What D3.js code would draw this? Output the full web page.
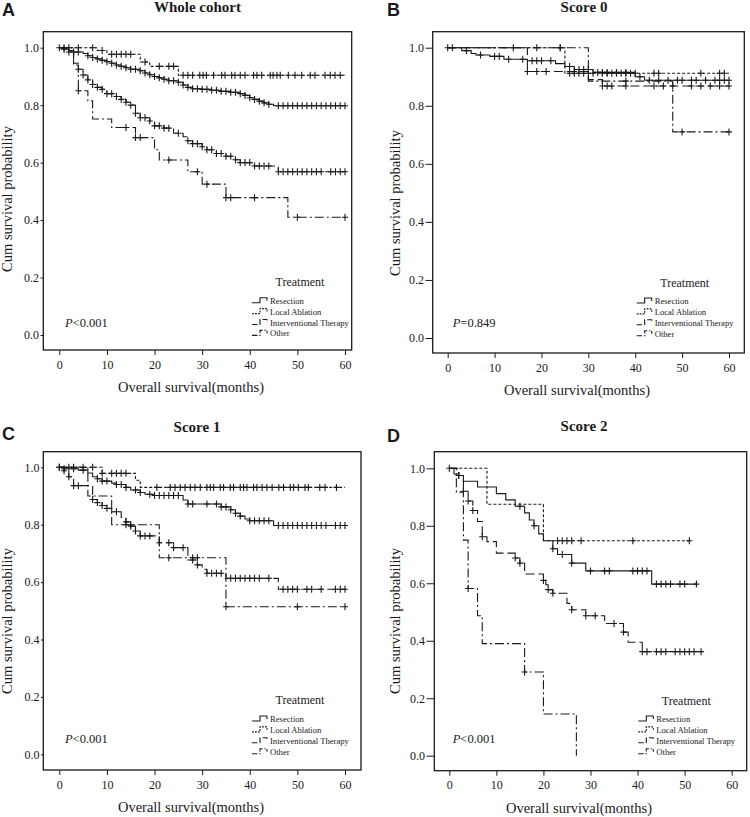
<!DOCTYPE html>
<html>
<head>
<meta charset="utf-8">
<script src="https://cdn.jsdelivr.net/npm/d3@7/dist/d3.min.js"></script>
<style>
  body { margin: 0; background: #fff; }
  svg text { font-family: "Liberation Serif", "Times New Roman", serif; fill: #1a1a1a; }
</style>
</head>
<body>
<div id="chart"></div>
<script>
// ---- data ----
var months = [0, 10, 20, 30, 40, 50, 60];
var survivalTicks = [0, 0.2, 0.4, 0.6, 0.8, 1.0];
var treatments = ["Resection", "Local Ablation", "Interventional Therapy", "Other"];
var panelLetters = ["A", "B", "C", "D"];
var panelTitles = ["Whole cohort", "Score 0", "Score 1", "Score 2"];
var pValues = ["<0.001", "=0.849", "<0.001", "<0.001"];

// steps are [month, survival after the event]; censored are months
var wholeResection = [[1,.995],[2,.99],[3,.985],[5,.98],[6,.972],[7,.966],[8,.961],[9,.956],[10,.951],[11,.946],[12,.94],[13,.935],[14,.93],[15,.925],[17,.92],[18,.912],[19,.906],[20,.9],[21,.895],[22,.89],[23,.885],[25,.88],[26,.87],[27,.862],[28,.857],[30,.855],[32,.852],[34,.848],[36,.845],[38,.84],[39,.834],[40,.826],[41,.82],[42,.814],[43,.808],[44,.803],[45,.798]];
var wholeResectionCens = [1,3,4,6,7,8,9,10,11,12,13,14,15,16,17,18,19,20,21,22,23,24,25,26,27,28,29,30,31,32,33,34,35,36,37,38,39,40,41,42,43,44,46,47,48,49,50,51,52,53,54,55,56,57,58,59,60];
var wholeAblation = [[8,.99],[10,.977],[17,.95],[19,.935],[25,.904]];
var wholeAblationCens = [0,1,2,4,7,9,11,12,13,14,15,18,21,23,24,26,27,28,29.5,30.2,30.9,32.4,34.1,34.8,36.2,36.9,38,39,40.8,41.5,42.5,44.3,44.9,45.7,46.4,48.1,49.5,50.9,52.7,53.7,55.8,56.9,57.9,59];
var wholeInterv = [[2,.985],[3,.946],[4,.925],[5,.905],[6,.888],[7,.872],[8,.862],[9,.855],[10,.84],[12,.83],[13,.82],[14,.81],[15,.8],[16,.772],[17,.756],[19,.745],[20,.728],[22,.72],[24,.702],[26,.69],[27,.676],[28,.666],[30,.655],[31,.645],[33,.632],[35,.622],[37,.61],[38,.6],[41,.588],[46,.568]];
var wholeIntervCens = [2,4,5,6,7,8,9,10,11,12,13,14,15,16,17,18,19,20,21,22,23,25,27,28,29,30,31,32,33,34,35,36,37,38,39,40,41,42,43,44,46,47,48,49,50,51,52,53,54,55,57,58,59,60];
var wholeOther = [[3,.94],[4,.85],[6,.815],[7,.752],[11,.722],[16,.687],[20,.645],[21,.609],[27,.568],[30,.525],[35,.478],[48,.41]];
var wholeOtherCens = [4,14,16,17,23,29,31,35,36,41,50,60];

var score0Resection = [[3,.99],[5,.98],[6,.975],[9,.97],[12,.96],[17,.955],[23,.945],[25,.935],[27,.925],[31,.915],[40,.9],[42,.888]];
var score0ResectionCens = [4,7,10,11,13,16,18,19,20,22,26,28,29,30,32,33,34,36,38,41,43,45,47,49,50,52,53,55,57,58,59,60];
var score0Ablation = [[25,.912]];
var score0AblationCens = [1,24,26,27,28,29,30,31,33,34,35,36,37,38,39,40,44,45,54,58,59];
var score0Interv = [[17,.918],[30,.89],[33,.868]];
var score0IntervCens = [0,14,17,19,21,27,33,34,35,38,44,46,48,52,54,56,58,60];
var score0Other = [[30,.885],[48,.71]];
var score0OtherCens = [19,24,38,50,60];

var score1Resection = [[1,.995],[4,.99],[6,.98],[7,.967],[8,.96],[9,.952],[11,.945],[12,.94],[14,.93],[15,.921],[17,.912],[18,.906],[20,.902],[26,.886],[27,.872],[34,.862],[36,.852],[37,.84],[38,.83],[39,.82],[40,.814],[45,.797]];
var score1ResectionCens = [0,1,3,5,8,9,10,12,13,14,16,17,19,20,21,22,23,24,25,27,28,31,33,34,35,36,37,38,40,41,42,43,44,46,47,48,49,50,51,52,53,54,55,56,58,59,60];
var score1Ablation = [[9,.979],[16,.955],[17,.93]];
var score1AblationCens = [0,2,3,5,7,9,11,12,13,14,20.5,23.3,24.3,25.4,26.4,27.5,28.5,29.6,31,31.7,32.4,33.8,34.5,35.9,36.6,38,38.7,39.4,40.8,41.5,42.6,43.6,44.7,46.1,47.1,48.5,49.2,50.2,51.6,52.3,54.7,55.8,58.2];
var score1Interv = [[1,.988],[2,.967],[3,.936],[7,.888],[8,.877],[9,.867],[10,.857],[11,.845],[13,.825],[14,.81],[15,.795],[16,.778],[17,.761],[21,.737],[24,.72],[27,.677],[29,.66],[30,.645],[31,.631],[35,.613],[46,.575]];
var score1IntervCens = [1,2,3,4,7,8,9,10,12,14,15,16,17,18,19,21,23,24,26,28,29,31,32,33,34,36,37,38,39,40,41,42,44,47,48,49,50,52,53,55,58,59,60];
var score1Other = [[6,.9],[11,.8],[21,.685],[35,.514]];
var score1OtherCens = [14,15,23,28,29,35,50,60];

var score2Resection = [[1,.98],[2,.975],[3,.955],[6,.935],[10,.912],[12,.89],[14,.868],[16,.845],[17,.82],[18,.8],[19,.772],[20,.748],[22,.72],[23,.7],[26,.67],[29,.643],[43,.597]];
var score2ResectionCens = [0,2,15,18,22,24,26,30,33,34,39,40,41,42,44,45,46,47,49,50,52.5];
var score2Ablation = [[8,.875],[20,.748]];
var score2AblationCens = [23,24,25,26,28,39,51];
var score2Interv = [[2,.975],[3,.92],[4,.886],[5,.853],[6,.815],[7,.762],[8,.745],[10,.705],[14,.688],[15,.67],[16,.632],[20,.61],[20.5,.595],[21,.578],[22,.565],[25,.53],[26,.508],[29,.487],[33,.46],[37,.43],[38,.395],[41,.362]];
var score2IntervCens = [2,3,4,5,7,14,15,20,21,22,26,29,31,35,37,41,42,44,45,46,48,49,50,51,52,53.5];
var score2Other = [[1.5,.917],[3,.75],[4,.582],[6,.487],[7,.39],[16,.291],[20,.145],[27,0]];
var score2OtherCens = [4,16];
var score2EndTimes = [52.5, 51, 53.5, 27];

// ---- layout ----
var dashes = [null, "3,2", "9,4", "9,3,2,3"];
var boxes = [
  {fx0: 43.3, fy0: 31.7, fx1: 351.7, fy1: 350, xr: [59.3, 345], yr: [335, 47.7], labR: 39, letter: [2, 16], title: [197.5, 12],
   ytitle: [12, 199], xtitle: 191, leg: {tx: 300, ty: 286, row: 300.7, ix: 252}, pv: [65, 327]},
  {fx0: 432.7, fy0: 31.7, fx1: 744.3, fy1: 353, xr: [447.7, 729], yr: [338, 47.7], labR: 424, letter: [387, 16], title: [584, 12],
   ytitle: [400, 203], xtitle: 577, leg: {tx: 684.7, ty: 287, row: 301, ix: 636.7}, pv: [452.7, 327]},
  {fx0: 43.3, fy0: 451.7, fx1: 361, fy1: 770, xr: [59.3, 345], yr: [754.3, 467.3], labR: 39.5, letter: [2, 440], title: [197, 432],
   ytitle: [12, 621], xtitle: 191, leg: {tx: 300, ty: 704, row: 719, ix: 252}, pv: [65, 742.5]},
  {fx0: 434.3, fy0: 451.7, fx1: 746.7, fy1: 770.7, xr: [449.3, 731.7], yr: [755.7, 468.3], labR: 425, letter: [387, 441.5], title: [584, 431],
   ytitle: [400, 621], xtitle: 579, leg: {tx: 686.3, ty: 705, row: 719, ix: 638.3}, pv: [452.7, 742.5]}
];

var panelSeries = [
  [[wholeResection, wholeResectionCens], [wholeAblation, wholeAblationCens], [wholeInterv, wholeIntervCens], [wholeOther, wholeOtherCens]],
  [[score0Resection, score0ResectionCens], [score0Ablation, score0AblationCens], [score0Interv, score0IntervCens], [score0Other, score0OtherCens]],
  [[score1Resection, score1ResectionCens], [score1Ablation, score1AblationCens], [score1Interv, score1IntervCens], [score1Other, score1OtherCens]],
  [[score2Resection, score2ResectionCens], [score2Ablation, score2AblationCens], [score2Interv, score2IntervCens], [score2Other, score2OtherCens]]
];
var endTimes = [[60,60,60,60],[60,60,60,60],[60,60,60,60], score2EndTimes];

var ink = "#1a1a1a";
var svg = d3.select("#chart").append("svg").attr("width", 750).attr("height", 817);

function survivalAt(steps, t) {
  var s = 1;
  steps.forEach(function(d) { if (d[0] <= t) s = d[1]; });
  return s;
}

var line = d3.line().curve(d3.curveStepAfter);

boxes.forEach(function(b, pi) {
  var x = d3.scaleLinear().domain([0, 60]).range(b.xr);
  var y = d3.scaleLinear().domain([0, 1]).range(b.yr);
  var g = svg.append("g");

  g.append("text").attr("x", b.letter[0]).attr("y", b.letter[1])
    .style("font-family", "'Liberation Sans', Arial, sans-serif").style("font-weight", "bold")
    .style("font-size", "18px").text(panelLetters[pi]);
  g.append("text").attr("x", b.title[0]).attr("y", b.title[1]).attr("text-anchor", "middle")
    .style("font-weight", "bold").style("font-size", "15px").text(panelTitles[pi]);

  g.append("rect").attr("x", b.fx0).attr("y", b.fy0)
    .attr("width", b.fx1 - b.fx0).attr("height", b.fy1 - b.fy0)
    .attr("fill", "none").attr("stroke", ink).attr("stroke-width", 1.3);

  var yAxis = g.append("g").attr("transform", "translate(" + b.fx0 + ",0)")
    .call(d3.axisLeft(y).tickValues(survivalTicks).tickFormat(d3.format(".1f"))
      .tickSize(b.fx0 - b.labR - 1.5).tickPadding(1.5));
  var xAxis = g.append("g").attr("transform", "translate(0," + b.fy1 + ")")
    .call(d3.axisBottom(x).tickValues(months).tickSize(5).tickPadding(5));
  [yAxis, xAxis].forEach(function(a) {
    a.select(".domain").remove();
    a.selectAll("line").attr("stroke", ink);
    a.selectAll("text").style("font-family", "'Liberation Serif', serif").style("font-size", "12px").attr("fill", ink);
  });

  g.append("text").attr("x", b.xtitle).attr("y", b.fy1 + 42).attr("text-anchor", "middle")
    .style("font-size", "14.5px").text("Overall survival(months)");
  g.append("text").attr("transform", "translate(" + b.ytitle[0] + "," + b.ytitle[1] + ") rotate(-90)")
    .attr("text-anchor", "middle").style("font-size", "14.5px").text("Cum survival probability");

  panelSeries[pi].forEach(function(sr, si) {
    var steps = sr[0], cens = sr[1], end = endTimes[pi][si];
    var pts = [[0, 1]].concat(steps);
    pts.push([end, pts[pts.length - 1][1]]);
    g.append("path")
      .attr("d", line(pts.map(function(d) { return [x(d[0]), y(d[1])]; })))
      .attr("fill", "none").attr("stroke", ink).attr("stroke-width", 1.1)
      .attr("stroke-dasharray", dashes[si]);
    g.selectAll(null).data(cens).enter().append("path")
      .attr("d", function(t) {
        var cx = x(t), cy = y(survivalAt(steps, t));
        return "M" + cx + "," + (cy - 3.5) + "V" + (cy + 3.5) + "M" + (cx - 3) + "," + cy + "H" + (cx + 3);
      })
      .attr("stroke", ink).attr("stroke-width", 1.1);
  });

  // legend
  g.append("text").attr("x", b.leg.tx).attr("y", b.leg.ty).attr("text-anchor", "middle")
    .style("font-size", "12px").text("Treatment");
  treatments.forEach(function(name, i) {
    var cy = b.leg.row + i * 10.9;
    g.append("path")
      .attr("d", "M" + b.leg.ix + "," + (cy + 2) + "H" + (b.leg.ix + 8) + "V" + (cy - 3) + "H" + (b.leg.ix + 15) + "V" + (cy))
      .attr("fill", "none").attr("stroke", ink).attr("stroke-width", 1.1)
      .attr("stroke-dasharray", dashes[i] ? dashes[i].split(",").map(function(v) { return v * 0.6; }).join(",") : null);
    g.append("text").attr("x", b.leg.ix + 18).attr("y", cy + 3)
      .style("font-size", "8.6px").text(name);
  });

  var pt = g.append("text").attr("x", b.pv[0]).attr("y", b.pv[1]).style("font-size", "12.5px");
  pt.append("tspan").style("font-style", "italic").text("P");
  pt.append("tspan").text(pValues[pi]);
});
</script>
</body>
</html>
